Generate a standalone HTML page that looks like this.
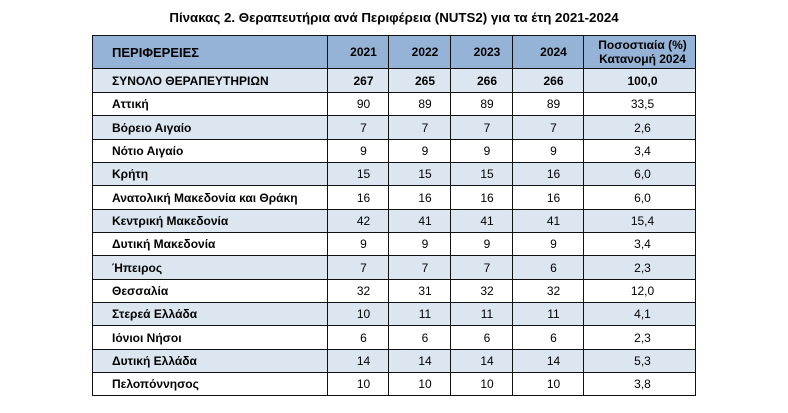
<!DOCTYPE html>
<html><head><meta charset="utf-8">
<style>
html,body{margin:0;padding:0;background:#fff;}
body{width:788px;height:413px;position:relative;overflow:hidden;font-family:"Liberation Sans","DejaVu Sans",sans-serif;}
.title{position:absolute;left:0;width:788px;top:9px;text-align:center;font-weight:bold;font-size:13.3px;line-height:18px;color:#000;}
table{position:absolute;left:92px;top:35px;border-collapse:collapse;table-layout:fixed;width:604px;}
td{border:1px solid #111;padding:0;font-size:12px;color:#000;text-align:center;vertical-align:middle;white-space:nowrap;overflow:hidden;}
td.n{text-align:left;padding-left:19px;font-weight:bold;}
td.y{padding-left:11px;}
td.p{padding-left:6px;}
tr.h td{background:#95b3d7;font-weight:bold;height:32px;}
tr.h td.n{font-size:13px;}
tr.h td.p{line-height:14px;}
tr.t td{font-weight:bold;height:23px;}
tr.s td{background:#dce6f1;}
tr.r td{height:22.35px;}
</style></head><body>
<div class="title">Πίνακας 2. Θεραπευτήρια ανά Περιφέρεια (NUTS2) για τα έτη 2021-2024</div>
<table>
<colgroup><col style="width:235px"><col style="width:61px"><col style="width:62px"><col style="width:62px"><col style="width:71px"><col style="width:112px"></colgroup>
<tr class="h"><td class="n">ΠΕΡΙΦΕΡΕΙΕΣ</td><td class="y">2021</td><td class="y">2022</td><td class="y">2023</td><td class="y">2024</td><td class="p">Ποσοστιαία (%)<br>Κατανομή 2024</td></tr>
<tr class="t s"><td class="n">ΣΥΝΟΛΟ ΘΕΡΑΠΕΥΤΗΡΙΩΝ</td><td class="y">267</td><td class="y">265</td><td class="y">266</td><td class="y">266</td><td class="p">100,0</td></tr>
<tr class="r"><td class="n">Αττική</td><td class="y">90</td><td class="y">89</td><td class="y">89</td><td class="y">89</td><td class="p">33,5</td></tr>
<tr class="r s"><td class="n">Βόρειο Αιγαίο</td><td class="y">7</td><td class="y">7</td><td class="y">7</td><td class="y">7</td><td class="p">2,6</td></tr>
<tr class="r"><td class="n">Νότιο Αιγαίο</td><td class="y">9</td><td class="y">9</td><td class="y">9</td><td class="y">9</td><td class="p">3,4</td></tr>
<tr class="r s"><td class="n">Κρήτη</td><td class="y">15</td><td class="y">15</td><td class="y">15</td><td class="y">16</td><td class="p">6,0</td></tr>
<tr class="r"><td class="n">Ανατολική Μακεδονία και Θράκη</td><td class="y">16</td><td class="y">16</td><td class="y">16</td><td class="y">16</td><td class="p">6,0</td></tr>
<tr class="r s"><td class="n">Κεντρική Μακεδονία</td><td class="y">42</td><td class="y">41</td><td class="y">41</td><td class="y">41</td><td class="p">15,4</td></tr>
<tr class="r"><td class="n">Δυτική Μακεδονία</td><td class="y">9</td><td class="y">9</td><td class="y">9</td><td class="y">9</td><td class="p">3,4</td></tr>
<tr class="r s"><td class="n">Ήπειρος</td><td class="y">7</td><td class="y">7</td><td class="y">7</td><td class="y">6</td><td class="p">2,3</td></tr>
<tr class="r"><td class="n">Θεσσαλία</td><td class="y">32</td><td class="y">31</td><td class="y">32</td><td class="y">32</td><td class="p">12,0</td></tr>
<tr class="r s"><td class="n">Στερεά Ελλάδα</td><td class="y">10</td><td class="y">11</td><td class="y">11</td><td class="y">11</td><td class="p">4,1</td></tr>
<tr class="r"><td class="n">Ιόνιοι Νήσοι</td><td class="y">6</td><td class="y">6</td><td class="y">6</td><td class="y">6</td><td class="p">2,3</td></tr>
<tr class="r s"><td class="n">Δυτική Ελλάδα</td><td class="y">14</td><td class="y">14</td><td class="y">14</td><td class="y">14</td><td class="p">5,3</td></tr>
<tr class="r"><td class="n">Πελοπόννησος</td><td class="y">10</td><td class="y">10</td><td class="y">10</td><td class="y">10</td><td class="p">3,8</td></tr>
</table>
</body></html>
